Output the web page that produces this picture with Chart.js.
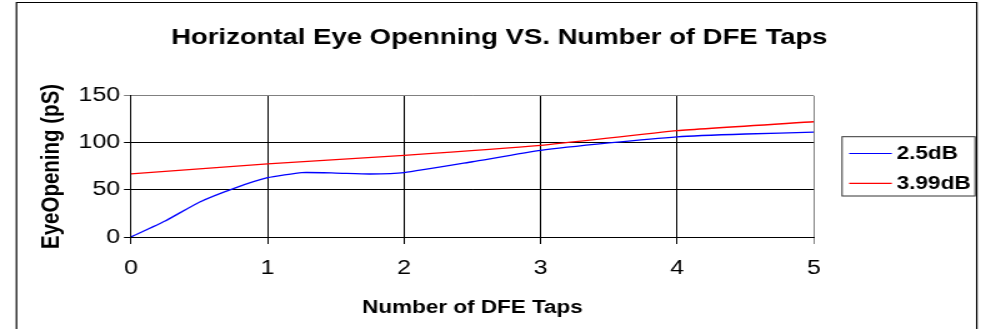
<!DOCTYPE html>
<html>
<head>
<meta charset="utf-8">
<script src="https://cdn.jsdelivr.net/npm/chart.js@4/dist/chart.umd.min.js"></script>
<style>
  html, body { margin: 0; padding: 0; background: #fff; overflow: hidden; }
  /* The chart is drawn on a narrower canvas and widened, giving the broad Excel-style lettering */
  #wrap { position: absolute; left: 0; top: 0; width: 785px; height: 329px;
          transform: scaleX(1.2497); transform-origin: 0 0; }
  canvas { display: block; }
</style>
</head>
<body>
<div id="wrap"><canvas id="c" width="785" height="329" style="width:785px;height:329px"></canvas></div>
<script>
// Horizontal eye opening (pS) against the number of DFE taps
const taps25 = [0, 0.25, 0.5, 0.75, 1, 1.25, 1.5, 1.75, 2, 2.5, 3, 3.5, 4, 4.5, 5];
const eye25  = [0, 17, 37, 51.5, 63, 68.5, 68, 67, 68.5, 80, 92, 100, 106.5, 109.5, 111.5];

const taps399 = [0, 1, 2, 3, 4, 5];
const eye399  = [67, 77.8, 86.7, 97.3, 113, 122.5];

const seriesNames = ['2.5dB', '3.99dB'];
const xTicks = [0, 1, 2, 3, 4, 5];
const yTicks = [0, 50, 100, 150];

const FONT = "'Liberation Sans', Arial, Helvetica, sans-serif";
Chart.defaults.font.family = FONT;
Chart.defaults.color = '#000';

const toPoints = (xs, ys) => xs.map((x, i) => ({ x, y: ys[i] }));

// Outer chart border (top, left and right edges)
const chartFrame = {
  id: 'chartFrame',
  beforeDraw(chart) {
    const ctx = chart.ctx;
    ctx.save();
    ctx.strokeStyle = '#000';
    ctx.lineWidth = 1.2;
    ctx.beginPath();
    ctx.moveTo(13.2, 340);
    ctx.lineTo(13.2, 2.5);
    ctx.lineTo(781.6, 2.5);
    ctx.lineTo(781.6, 340);
    ctx.stroke();
    ctx.restore();
  }
};

// Boxed legend at the right of the plot
const boxedLegend = {
  id: 'boxedLegend',
  afterDraw(chart, args, o) {
    const ctx = chart.ctx;
    ctx.save();
    ctx.strokeStyle = '#333';
    ctx.lineWidth = 1;
    ctx.strokeRect(o.left, o.top, o.right - o.left, o.bottom - o.top);
    ctx.font = 'bold 18px ' + FONT;
    ctx.textBaseline = 'middle';
    ctx.textAlign = 'left';
    chart.data.datasets.forEach((ds, i) => {
      const y = o.rows[i];
      ctx.strokeStyle = ds.borderColor;
      ctx.lineWidth = 1.2;
      ctx.beginPath();
      ctx.moveTo(o.lineFrom, y);
      ctx.lineTo(o.lineTo, y);
      ctx.stroke();
      ctx.fillStyle = '#000';
      ctx.fillText(ds.label, o.textX, y + 1);
    });
    ctx.restore();
  }
};

new Chart(document.getElementById('c'), {
  type: 'line',
  data: {
    datasets: [
      {
        label: seriesNames[0],
        data: toPoints(taps25, eye25),
        borderColor: '#0000ff',
        borderWidth: 1.3,
        pointRadius: 0,
        tension: 0.15,
        fill: false
      },
      {
        label: seriesNames[1],
        data: toPoints(taps399, eye399),
        borderColor: '#ff0000',
        borderWidth: 1.3,
        pointRadius: 0,
        tension: 0.15,
        fill: false
      }
    ]
  },
  options: {
    responsive: false,
    animation: false,
    devicePixelRatio: 1,
    layout: { padding: { left: 14, right: 0, top: 0, bottom: 0 } },
    plugins: {
      legend: { display: false },
      tooltip: { enabled: false },
      title: {
        display: true,
        text: 'Horizontal Eye Openning VS. Number of DFE Taps',
        color: '#000',
        font: { size: 22, weight: 'bold' },
        padding: { top: 25, bottom: 44.5 }
      },
      boxedLegend: {
        left: 673.8, right: 780.2, top: 136.7, bottom: 196,
        rows: [153.5, 183.3], lineFrom: 679.5, lineTo: 713.6, textX: 717.6
      }
    },
    scales: {
      x: {
        type: 'linear',
        min: xTicks[0],
        max: xTicks[xTicks.length - 1],
        afterBuildTicks(s) { s.ticks = xTicks.map(v => ({ value: v })); },
        afterFit(s) { s.height = 92; },
        ticks: { font: { size: 20 }, color: '#000', padding: 12 },
        grid: {
          color: c => (c.tick && c.tick.value === 5 ? '#808080' : '#000'),
          lineWidth: 1,
          tickLength: 7
        },
        border: { color: '#000', width: 1 },
        title: {
          display: true,
          text: 'Number of DFE Taps',
          color: '#000',
          font: { size: 18, weight: 'bold' },
          padding: { top: 0, bottom: 10 }
        }
      },
      y: {
        min: yTicks[0],
        max: yTicks[yTicks.length - 1],
        afterBuildTicks(s) { s.ticks = yTicks.map(v => ({ value: v })); },
        afterFit(s) { s.width = 104.8 - 14; },
        ticks: { font: { size: 20 }, color: '#000', padding: 3 },
        grid: {
          color: c => (c.tick && c.tick.value === 150 ? '#808080' : '#000'),
          lineWidth: 1,
          tickLength: 5.6
        },
        border: { color: '#000', width: 1 },
        title: {
          display: true,
          text: 'EyeOpening (pS)',
          color: '#000',
          font: { size: 20.5, weight: 'bold' },
          padding: { top: 15.5, bottom: 0 }
        }
      },
      // empty right-hand band that holds the room for the legend box
      legendBand: {
        position: 'right',
        min: 0,
        max: 1,
        afterFit(s) { s.width = 785 - 651.2; },
        ticks: { display: false },
        grid: { display: false, drawOnChartArea: false },
        border: { display: false },
        title: { display: false }
      }
    }
  },
  plugins: [chartFrame, boxedLegend]
});
</script>
</body>
</html>
